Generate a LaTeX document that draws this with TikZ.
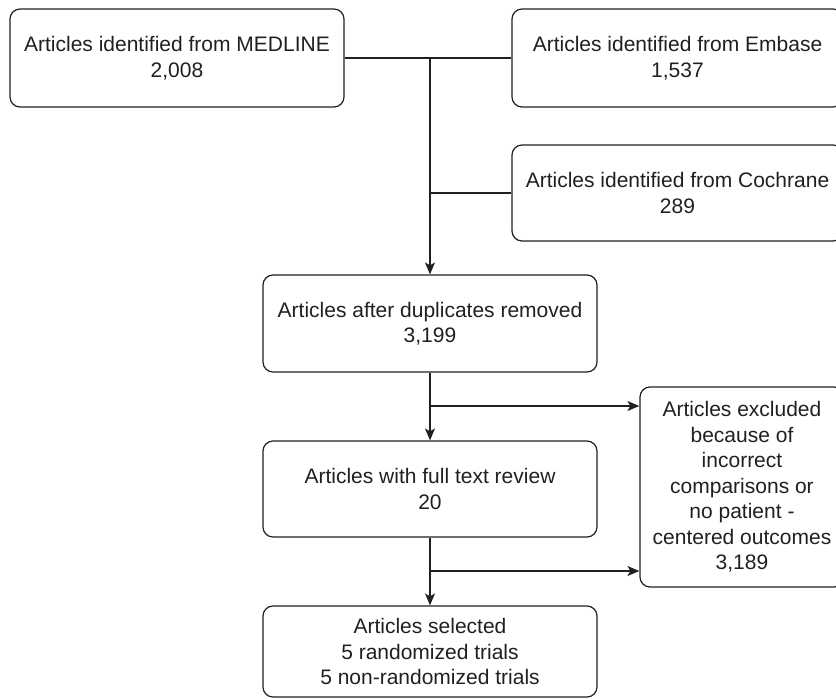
\documentclass[tikz,border=0pt]{standalone}
\usepackage{fontspec}
\setmainfont{Liberation Sans}
\usetikzlibrary{arrows.meta}
\definecolor{inkgray}{RGB}{35,31,32}
\begin{document}
\begin{tikzpicture}[x=1pt, y=-1pt, line width=1.2pt, draw=inkgray,
    box/.style={draw=inkgray, rounded corners=10pt, align=center, inner sep=0pt,
      font=\fontsize{21}{25.5}\selectfont, text=inkgray},
    flow/.style={-{Stealth[length=12pt,width=10pt,inset=3pt]}, inkgray}]
    \clip (0,0) rectangle (836,699);
    \node[box, minimum width=334pt, minimum height=98pt] (medline) at (177,58) {Articles identified from MEDLINE\\2,008};
    \node[box, minimum width=331pt, minimum height=98pt] (embase) at (677.5,58) {Articles identified from Embase\\1,537};
    \node[box, minimum width=331pt, minimum height=96pt] (cochrane) at (677.5,193) {Articles identified from Cochrane\\289};
    \node[box, minimum width=334pt, minimum height=97pt] (dupl) at (430,323.5) {Articles after duplicates removed\\3,199};
    \node[box, minimum width=334pt, minimum height=96pt] (fulltext) at (430,489) {Articles with full text review\\20};
    \node[box, minimum width=334pt, minimum height=91pt] (selected) at (430,651.5) {Articles selected\\5 randomized trials\\5 non-randomized trials};
    \node[box, minimum width=204pt, minimum height=200pt] (excluded) at (742,487) {Articles excluded\\because of\\incorrect\\comparisons or\\no patient -\\centered outcomes\\3,189};
    \coordinate (top) at (medline.east -| dupl.north);
    \coordinate (sp1) at (430,406);
    \coordinate (sp2) at (430,571);
    \draw[inkgray] (medline.east) -- (embase.west);
    \draw[inkgray] (cochrane.west) -- (cochrane.west -| top);
    \draw[flow] (top) -- (dupl.north);
    \draw[flow] (dupl) -- (fulltext);
    \draw[flow] (fulltext) -- (selected);
    \draw[flow] (sp1) -- (sp1 -| excluded.west);
    \draw[flow] (sp2) -- (sp2 -| excluded.west);
\end{tikzpicture}
\end{document}
